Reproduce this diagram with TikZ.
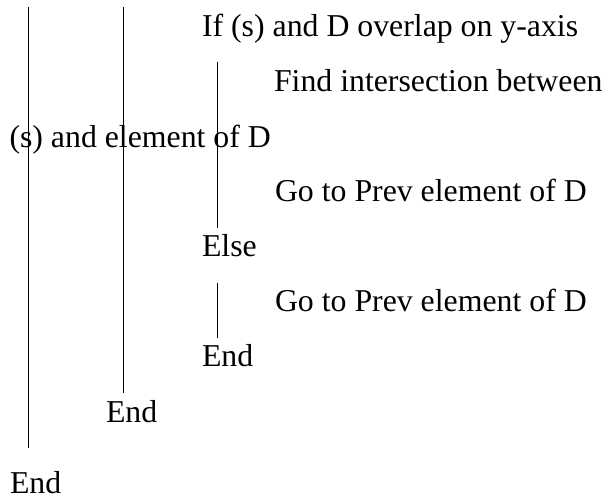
\documentclass[tikz,border=0pt]{standalone}
\usepackage{fontspec}
\setmainfont{Liberation Serif}
\begin{document}
\begin{tikzpicture}[x=1pt,y=-1pt,
  txt/.style={anchor=base west,inner sep=0pt,outer sep=0pt,font=\fontsize{31.8}{38}\selectfont},
  rule/.style={draw=black,line width=1pt}]
\useasboundingbox (0,0) rectangle (604,500);
\node[txt] (if)    at (202,36.7)  {If (s) and D overlap on y-axis};
\node[txt] (find)  at (274,91.7) {Find intersection between};
\node[txt] (find2) at (9.5,147)   {(s) and element of D};
\node[txt] (go1)   at (275,201.7) {Go to Prev element of D};
\node[txt] (else)  at (202,256.7) {Else};
\node[txt] (go2)   at (275,311.7) {Go to Prev element of D};
\node[txt] (end1)  at (202,366.7) {End};
\node[txt] (end2)  at (106,422.7) {End};
\node[txt] (end3)  at (10,493)    {End};
\coordinate (o1) at (28.3,7);   \coordinate (o2) at (28.3,448);
\coordinate (m1) at (123.3,7);  \coordinate (m2) at (123.3,393);
\coordinate (i1) at (217.3,62); \coordinate (i2) at (217.3,228);
\coordinate (j1) at (217.3,283); \coordinate (j2) at (217.3,338);
\draw[rule,line width=1.2pt] (o1) -- (o2);
\draw[rule] (m1) -- (m2);
\draw[rule] (i1) -- (i2);
\draw[rule] (j1) -- (j2);
\end{tikzpicture}
\end{document}
